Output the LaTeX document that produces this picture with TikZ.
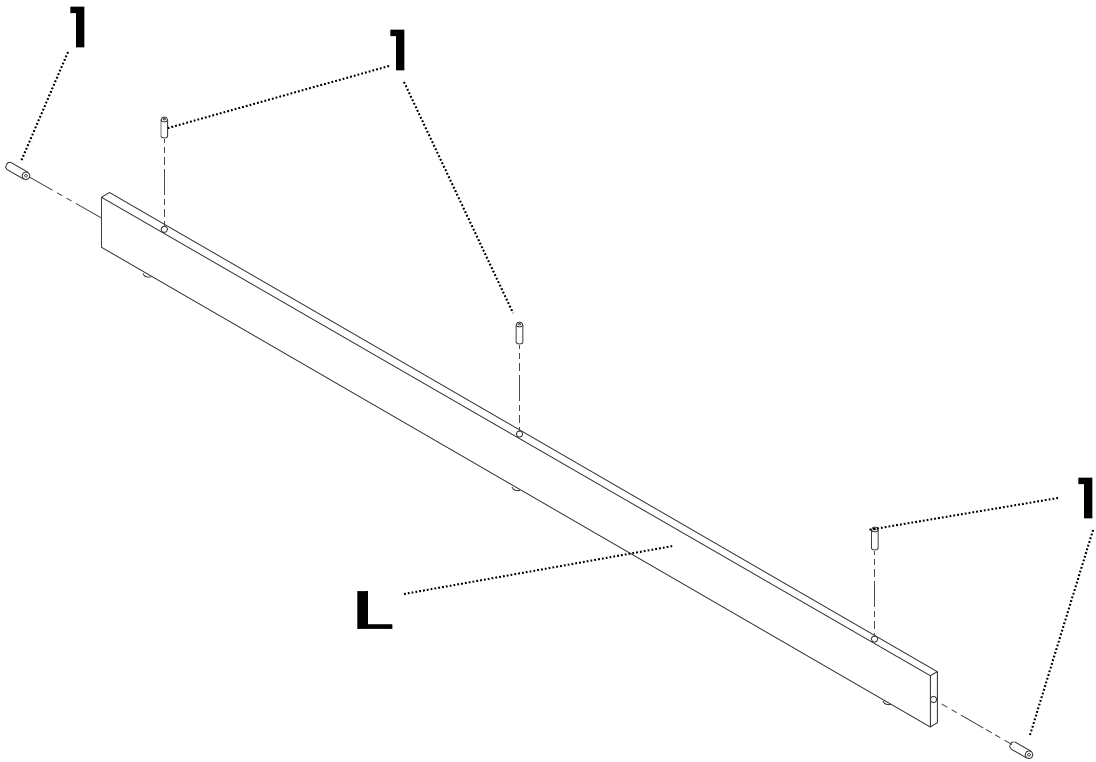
\documentclass[tikz,border=0pt]{standalone}
\usepackage{fontspec}
\setmainfont{Poppins}
\newfontfamily\onefont{Poppins}[FakeBold=4]
\newfontfamily\ellfont{Poppins}[FakeBold=1.2]
\tikzset{
  part/.style={line width=0.7pt,draw=black!75,line join=round},
  axisline/.style={line width=0.65pt,draw=black!70},
  vaxis/.style={axisline,dash pattern=on 3.7pt off 2.5pt on 5pt off 2.5pt on 6pt off 3pt on 20pt off 3pt on 4.5pt off 3pt on 6pt off 2.5pt on 8pt},
  leader/.style={line width=1.5pt,dash pattern=on 1.3pt off 1.6pt},
  lab/.style={inner sep=0pt,anchor=center,text=black},
  onelab/.style={lab,font=\fontsize{40}{40}\selectfont\onefont,xscale=1.15}
}
\begin{document}
\begin{tikzpicture}[x=0.75pt,y=-0.75pt]
\useasboundingbox (0,0) rectangle (1096,761);
% board
\coordinate (ftl) at (101.5,197.3);
\coordinate (btl) at (109.5,192.5);
\coordinate (fbl) at (101.5,247.3);
\coordinate (ftr) at (930.3,675.7);
\coordinate (btr) at (937.3,671.7);
\coordinate (fbr) at (930.3,727);
\coordinate (bbr) at (937.3,722.7);
\draw[part] (ftl) -- (btl) -- (btr) -- (ftr) -- cycle;
\draw[part] (ftl) -- (fbl) -- (fbr) -- (ftr);
\draw[part] (btr) -- (bbr) -- (fbr);
% bumps under the board
\foreach \x/\y in {147/274.5,516/488,887/702}{
  \draw[part] (\x-4,\y-1) .. controls (\x-3,\y+3) and (\x+2,\y+3) .. (\x+4,\y+2.3);
}
% holes
\foreach \x/\y in {164.3/229.3,519.5/434,874.5/639,933.5/699.5}{
  \draw[part] (\x,\y) circle[radius=3.2];
}
% vertical pegs
\foreach \x/\t/\b in {164.3/117/138,519.5/322/344,874.8/527/550}{
  \draw[part,fill=white] (\x-3.3,\t+3) -- (\x-3.3,\b-1.5) .. controls (\x-3.3,\b+0.5) and (\x+3.3,\b+0.5) .. (\x+3.3,\b-1.5) -- (\x+3.3,\t+3)
     .. controls (\x+3.3,\t-1) and (\x-3.3,\t-1) .. cycle;
  \draw[part] (\x-3.3,\t+3) .. controls (\x-3.3,\t+5.5) and (\x+3.3,\t+5.5) .. (\x+3.3,\t+3);
  \draw[part,line width=0.5pt] (\x,\t+2.2) ellipse[x radius=1.4,y radius=1];
}
% inclined pegs
\draw[part,fill=white] (24,179.3) -- (7,169.5) .. controls (3.5,167.5) and (7.5,160.5) .. (11,162.5) -- (28,172.3);
\draw[part,fill=white] (26,175.8) circle[radius=3.9];
\draw[part,line width=0.5pt] (26,175.8) circle[radius=1.7];
\draw[part,fill=white] (1027,758.2) -- (1011,749) .. controls (1007.5,747) and (1011.5,740) .. (1015,742) -- (1031,751.2);
\draw[part,fill=white] (1029,754.7) circle[radius=3.9];
\draw[part,line width=0.5pt] (1029,754.7) circle[radius=1.7];
% centre lines
\coordinate (pae) at (164.3,138.5);
\coordinate (pbe) at (519.5,344.5);
\coordinate (pce) at (874.8,550.5);
\coordinate (ha) at (164.3,227);
\coordinate (hb) at (519.5,431.5);
\coordinate (hc) at (874.8,636.5);
\draw[vaxis] (pae) -- (ha);
\draw[vaxis] (pbe) -- (hb);
\draw[vaxis] (pce) -- (hc);
\coordinate (la) at (29.3,177);
\coordinate (lb) at (101.5,218);
\draw[axisline,dash pattern=on 20pt off 4pt on 4.3pt off 3.8pt on 4.3pt off 3.8pt on 40pt] (la) -- (lb);
\coordinate (ra) at (941.7,704);
\coordinate (rb) at (1012,744.5);
\draw[axisline,dash pattern=on 4.9pt off 3.7pt on 4.3pt off 3.7pt on 19.4pt off 2.3pt on 4.9pt off 3pt on 4.3pt off 4pt on 20pt] (ra) -- (rb);
% labels
\node[onelab] (n1) at (79,27) {1};
\node[onelab] (n2) at (399,50) {1};
\node[onelab] (n3) at (1087,498) {1};
\node[lab,font=\fontsize{40}{40}\selectfont\ellfont,xscale=1.9] (nL) at (372,610) {L};
% leaders
\coordinate (t1) at (20.7,162);
\coordinate (s1) at (68,52);
\coordinate (t2) at (168,128);
\coordinate (s2) at (389,66);
\coordinate (t3) at (513,313);
\coordinate (s3) at (404,82);
\coordinate (t4) at (868,530);
\coordinate (s4) at (1058,498);
\coordinate (t5) at (1030,735);
\coordinate (s5) at (1093,530);
\coordinate (t6) at (673,546);
\coordinate (s6) at (404,594);
\foreach \a/\b in {s1/t1,s2/t2,s3/t3,s4/t4,s5/t5,s6/t6}{
  \draw[leader] (\a) -- (\b);
}
\end{tikzpicture}
\end{document}
